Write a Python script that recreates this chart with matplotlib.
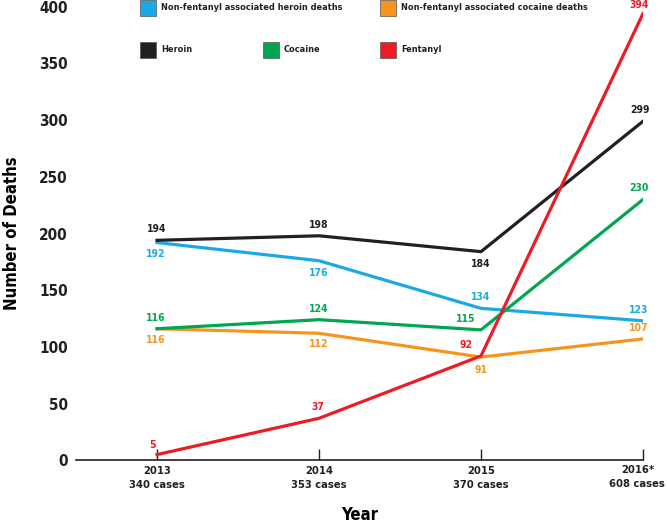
import matplotlib.pyplot as plt
from matplotlib.patches import Rectangle

plt.rcParams['font.family'] = ['DejaVu Sans']
plt.rcParams['font.stretch'] = 'condensed'
plt.rcParams['font.weight'] = 'bold'

years = [2013, 2014, 2015, 2016]
tick_labels = ['2013\n340 cases', '2014\n353 cases', '2015\n370 cases', '2016*\n608 cases']
heroin = [194, 198, 184, 299]
cocaine = [116, 124, 115, 230]
fentanyl = [5, 37, 92, 394]
nf_heroin = [192, 176, 134, 123]
nf_cocaine = [116, 112, 91, 107]

c_black = '#231f20'
c_green = '#00a651'
c_red = '#ed1c24'
c_blue = '#1ba9e6'
c_orange = '#f7941d'

fig = plt.figure(figsize=(6.67, 5.23), dpi=100)
ax = fig.add_axes([0.114, 0.120, 0.850, 0.867])

lw = 2.3
ax.plot(years, nf_cocaine, color=c_orange, lw=lw)
ax.plot(years, nf_heroin, color=c_blue, lw=lw)
ax.plot(years, cocaine, color=c_green, lw=lw)
ax.plot(years, heroin, color=c_black, lw=lw)
ax.plot(years, fentanyl, color=c_red, lw=lw)

# label offsets (points) per series and year
def label(vals, color, offs):
    for x, v, (dx, dy) in zip(years, vals, offs):
        ax.annotate(str(v), (x, v), xytext=(dx, dy), textcoords='offset points',
                    ha='center', va='center', color=color, fontsize=7.5, fontweight='bold')

label(heroin, c_black, [(0, 8), (0, 8), (0, -9), (-2, 8)])
label(nf_heroin, c_blue, [(-1, -8), (0, -9), (0, 8), (-3, 8)])
label(cocaine, c_green, [(-1, 8), (0, 8), (-11, 8), (-3, 8)])
label(nf_cocaine, c_orange, [(-1, -8), (0, -8), (0, -9), (-3, 8)])
label(fentanyl, c_red, [(-3, 7), (-1, 8), (-11, 8), (-3, 6)])

ax.set_xlim(2012.5, 2016.0)
ax.set_ylim(0, 400)
ax.set_xticks(years)
# last label drawn by hand, nudged left so it fits the figure edge
ax.set_xticklabels(tick_labels[:-1] + [''], fontsize=8, fontweight='bold', linespacing=1.5)
ax.annotate(tick_labels[-1], (years[-1], 0), xycoords=('data', 'axes fraction'),
            xytext=(-4, -3.5), textcoords='offset points', ha='center', va='top',
            fontsize=8, fontweight='bold', linespacing=1.5, color=c_black,
            annotation_clip=False)
ax.set_yticks(range(0, 401, 50))
ax.tick_params(axis='y', length=0, labelsize=11, pad=6)
ax.tick_params(axis='x', direction='in', length=8, width=1, pad=4, colors=c_black)
ax.tick_params(axis='y', colors=c_black)
for s in ['top', 'right', 'left']:
    ax.spines[s].set_visible(False)
ax.spines['bottom'].set_linewidth(1.2)
ax.spines['bottom'].set_color(c_black)
ax.set_xlabel('Year', fontsize=12, fontweight='bold', labelpad=12)
ax.set_ylabel('Number of Deaths', fontsize=12, fontweight='bold', labelpad=13)

# legend boxes drawn in figure pixels
W, H = 667, 523
items = [
    (140, 8, c_blue, 'Non-fentanyl associated heroin deaths'),
    (380, 8, c_orange, 'Non-fentanyl associated cocaine deaths'),
    (140, 50, c_black, 'Heroin'),
    (263, 50, c_green, 'Cocaine'),
    (380, 50, c_red, 'Fentanyl'),
]
for px, py, col, txt in items:
    fig.patches.append(Rectangle(((px) / W, 1 - (py + 8) / H), 16 / W, 16 / H,
                                 transform=fig.transFigure, facecolor=col,
                                 edgecolor='#555555', lw=0.5))
    fig.text((px + 21) / W, 1 - py / H, txt, ha='left', va='center',
             fontsize=6.6, fontweight='bold', color=c_black)

fig.savefig('out.png', dpi=100)
